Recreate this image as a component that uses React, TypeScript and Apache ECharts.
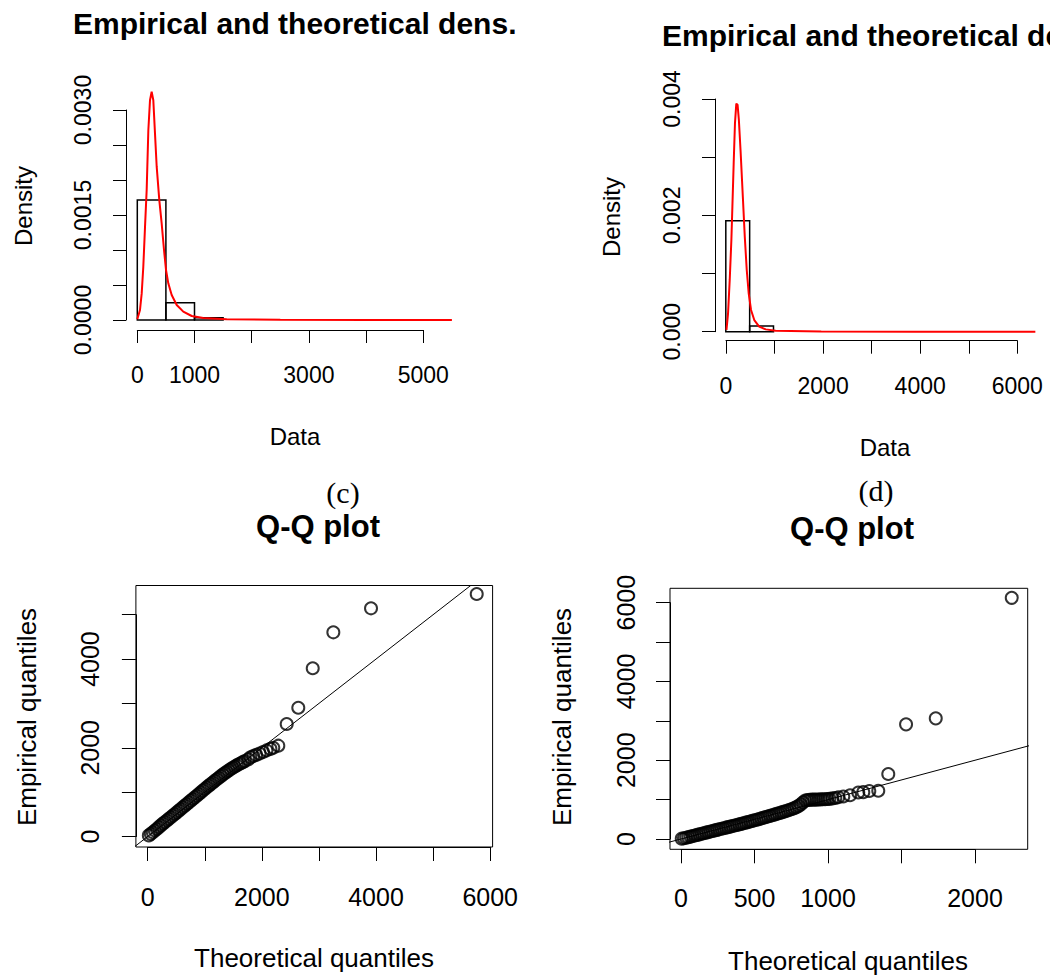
import React, { useEffect, useRef } from "react";
import * as echarts from "echarts";

// ---------- DATA ----------
// (c) top: histogram (bin edges, densities) and fitted density curve
const histCEdges = [0, 500, 1000, 1500];
const histCDensity = [0.001714, 0.000247, 0.000033];
const curveCX = [0, 47, 77, 105, 135, 164, 193, 222, 251, 280, 309, 339, 385, 426, 467, 502, 542, 601, 689, 804, 951, 1154, 1563, 2500, 4000, 5500];
const curveCY = [0.00001, 0.000143, 0.00038, 0.00076, 0.00133, 0.00186, 0.00271, 0.00314, 0.00326, 0.00314, 0.00267, 0.00219, 0.00171, 0.00138, 0.001, 0.000714, 0.000524, 0.000357, 0.000214, 0.000119, 0.000057, 0.000029, 0.00001, 0.000002, 0, 0];

// (d) top: histogram and fitted density curve
const histDEdges = [0, 500, 1000];
const histDDensity = [0.001907, 0.0001];
const curveDX = [14, 47, 82, 117, 138, 165, 192, 220, 247, 274, 309, 357, 398, 439, 480, 529, 597, 700, 838, 1044, 2000, 4000, 6490];
const curveDY = [0.00003, 0.000316, 0.00089, 0.00158, 0.00215, 0.00289, 0.00358, 0.00392, 0.0039, 0.00364, 0.00312, 0.00232, 0.00163, 0.00106, 0.00066, 0.000373, 0.0002, 0.000086, 0.00004, 0.000017, 0.000002, 0, 0];

// (c) Q-Q: theoretical vs empirical quantiles
const qqCTheo = [20, 55, 90, 125, 160, 195, 230, 265, 300, 335, 370, 405, 440, 475, 510, 545, 580, 615, 650, 685, 720, 755, 790, 825, 860, 895, 930, 965, 1000, 1035, 1070, 1105, 1140, 1175, 1210, 1245, 1280, 1315, 1350, 1385, 1420, 1455, 1490, 1525, 1560, 1595, 1630, 1665, 1700, 1760, 1800, 1850, 1900, 1960, 2020, 2080, 2150, 2200, 2288, 2435, 2638, 2891, 3252, 3912, 5764];
const qqCEmp = [25, 60, 95, 135, 170, 210, 250, 290, 325, 362, 398, 435, 472, 508, 545, 582, 620, 658, 695, 732, 770, 808, 845, 882, 920, 958, 996, 1035, 1072, 1110, 1146, 1182, 1218, 1254, 1290, 1325, 1360, 1395, 1428, 1460, 1492, 1522, 1550, 1578, 1604, 1628, 1652, 1676, 1700, 1740, 1785, 1815, 1840, 1870, 1905, 1940, 1975, 2000, 2047, 2536, 2903, 3792, 4603, 5144, 5467];
const qqCLine = [[-1000, -1000], [7000, 7000]];

// (d) Q-Q
const qqDTheo = [5, 20, 35, 50, 65, 80, 95, 110, 125, 140, 155, 170, 185, 200, 215, 230, 245, 260, 275, 290, 305, 320, 335, 350, 365, 380, 395, 410, 425, 440, 455, 470, 485, 500, 515, 530, 545, 560, 575, 590, 605, 620, 635, 650, 665, 680, 695, 710, 725, 740, 755, 770, 785, 800, 815, 830, 845, 860, 875, 890, 905, 920, 935, 950, 965, 980, 995, 1010, 1030, 1050, 1070, 1104, 1150, 1206, 1240, 1281, 1342, 1410, 1531, 1733, 2250];
const qqDEmp = [8, 20, 33, 47, 61, 75, 90, 104, 118, 133, 147, 162, 176, 190, 204, 218, 232, 246, 259, 273, 287, 301, 315, 329, 342, 356, 371, 385, 400, 415, 430, 445, 460, 475, 490, 506, 522, 538, 554, 570, 588, 604, 620, 637, 654, 671, 688, 705, 723, 742, 762, 783, 808, 840, 880, 930, 975, 990, 995, 998, 1000, 1000, 1002, 1005, 1008, 1010, 1015, 1020, 1030, 1040, 1060, 1080, 1110, 1180, 1190, 1220, 1225, 1650, 2911, 3063, 6124];
const qqDLine = [[-1000, -1000], [7000, 7000]];

// tick labels that are printed (others suppressed like in R)
const c1XLabels = ["0", "1000", "3000", "5000"];
const c1YLabels = ["0.0000", "0.0015", "0.0030"];
const d1XLabels = ["0", "2000", "4000", "6000"];
const d1YLabels = ["0.000", "0.002", "0.004"];
const c2XLabels = ["0", "2000", "4000", "6000"];
const c2YLabels = ["0", "2000", "4000"];
const d2XLabels = ["0", "500", "1000", "2000"];
const d2YLabels = ["0", "2000", "4000", "6000"];

// ---------- LAYOUT ----------
const SANS = '"Liberation Sans", Arial, sans-serif';
const SERIF = '"Liberation Serif", "Times New Roman", serif';

type Panel = {
  xTickVal: [number, number]; xTickPx: [number, number];
  yTickVal: [number, number]; yTickPx: [number, number];
  xInterval: number; yInterval: number;
  axisLineY: number; axisLineX: number;
  box: { left: number; right: number; top: number; bottom: number };
  showBox: boolean; fontSize: number; tickLen: number;
  xMargin: number; yMargin: number; xDec: number; yDec: number;
  xShow: string[]; yShow: string[];
};

const panels: Panel[] = [
  {
    xTickVal: [0, 5000], xTickPx: [137.3, 423.3], yTickVal: [0, 0.003], yTickPx: [320, 110],
    xInterval: 1000, yInterval: 0.0005, axisLineY: 330, axisLineX: 126,
    box: { left: 126, right: 465, top: 81, bottom: 330 }, showBox: false, fontSize: 23, tickLen: 13,
    xMargin: 33, yMargin: 32, xDec: 0, yDec: 4, xShow: c1XLabels, yShow: c1YLabels,
  },
  {
    xTickVal: [0, 6000], xTickPx: [726, 1017.3], yTickVal: [0, 0.004], yTickPx: [331.7, 99],
    xInterval: 1000, yInterval: 0.001, axisLineY: 340.7, axisLineX: 715,
    box: { left: 715, right: 1056, top: 93, bottom: 340.7 }, showBox: false, fontSize: 23, tickLen: 13,
    xMargin: 34, yMargin: 32, xDec: 0, yDec: 3, xShow: d1XLabels, yShow: d1YLabels,
  },
  {
    xTickVal: [0, 6000], xTickPx: [147.7, 490.2], yTickVal: [0, 5000], yTickPx: [836.5, 614.7],
    xInterval: 1000, yInterval: 1000, axisLineY: 847, axisLineX: 135.9,
    box: { left: 135.9, right: 492.6, top: 585.5, bottom: 847 }, showBox: true, fontSize: 25, tickLen: 14,
    xMargin: 37, yMargin: 33, xDec: 0, yDec: 0, xShow: c2XLabels, yShow: c2YLabels,
  },
  {
    xTickVal: [0, 2000], xTickPx: [681, 975], yTickVal: [0, 6000], yTickPx: [839, 602.7],
    xInterval: 500, yInterval: 1000, axisLineY: 849.3, axisLineX: 670,
    box: { left: 670, right: 1027.7, top: 588.3, bottom: 849.3 }, showBox: true, fontSize: 25, tickLen: 14,
    xMargin: 36, yMargin: 32, xDec: 0, yDec: 0, xShow: d2XLabels, yShow: d2YLabels,
  },
];

function lin(v0: number, v1: number, p0: number, p1: number, p: number) {
  return v0 + ((p - p0) * (v1 - v0)) / (p1 - p0);
}

function buildAxes() {
  const grid: any[] = [];
  const xAxis: any[] = [];
  const yAxis: any[] = [];
  panels.forEach((P) => {
    // data grid (hidden scales spanning the plot region)
    grid.push({
      left: P.box.left, top: P.box.top,
      width: P.box.right - P.box.left, height: P.box.bottom - P.box.top,
      show: P.showBox, borderColor: "#000", borderWidth: 1, backgroundColor: "transparent",
    });
    xAxis.push({
      type: "value", show: false, gridIndex: grid.length - 1,
      min: lin(P.xTickVal[0], P.xTickVal[1], P.xTickPx[0], P.xTickPx[1], P.box.left),
      max: lin(P.xTickVal[0], P.xTickVal[1], P.xTickPx[0], P.xTickPx[1], P.box.right),
      splitLine: { show: false },
    });
    yAxis.push({
      type: "value", show: false, gridIndex: grid.length - 1,
      min: lin(P.yTickVal[0], P.yTickVal[1], P.yTickPx[0], P.yTickPx[1], P.box.bottom),
      max: lin(P.yTickVal[0], P.yTickVal[1], P.yTickPx[0], P.yTickPx[1], P.box.top),
      splitLine: { show: false },
    });
    // axis grid (spans the tick range only, like R's axis())
    grid.push({
      left: P.xTickPx[0], top: P.yTickPx[1],
      width: P.xTickPx[1] - P.xTickPx[0], height: P.yTickPx[0] - P.yTickPx[1],
      show: false,
    });
    const common = {
      type: "value", gridIndex: grid.length - 1,
      axisLine: { show: true, onZero: false, lineStyle: { color: "#000", width: 1 } },
      axisTick: { show: true, length: P.tickLen, lineStyle: { color: "#000", width: 1 } },
      splitLine: { show: false },
    };
    xAxis.push({
      ...common, position: "bottom",
      min: P.xTickVal[0], max: P.xTickVal[1], interval: P.xInterval,
      offset: P.axisLineY - P.yTickPx[0],
      axisLabel: {
        margin: P.xMargin, color: "#000", fontSize: P.fontSize, fontFamily: SANS,
        formatter: (v: number) => { const s = v.toFixed(P.xDec); return P.xShow.includes(s) ? s : ""; },
      },
    });
    yAxis.push({
      ...common, position: "left",
      min: P.yTickVal[0], max: P.yTickVal[1], interval: P.yInterval,
      offset: P.xTickPx[0] - P.axisLineX,
      axisLabel: {
        margin: P.yMargin, rotate: 90, color: "#000", fontSize: P.fontSize, fontFamily: SANS,
        formatter: (v: number) => { const s = v.toFixed(P.yDec); return P.yShow.includes(s) ? s : ""; },
      },
    });
  });
  return { grid, xAxis, yAxis };
}

function histSeries(idx: number, edges: number[], dens: number[]) {
  return {
    type: "custom", xAxisIndex: idx, yAxisIndex: idx, silent: true,
    data: dens.map((d, i) => [edges[i], edges[i + 1], d]),
    encode: { x: [0, 1], y: 2 },
    renderItem: (_p: any, api: any) => {
      const a = api.coord([api.value(0), api.value(2)]);
      const b = api.coord([api.value(1), 0]);
      return {
        type: "rect",
        shape: { x: a[0], y: a[1], width: b[0] - a[0], height: b[1] - a[1] },
        style: { fill: "rgba(0,0,0,0)", stroke: "#000", lineWidth: 1.5 },
      };
    },
  };
}

function curveSeries(idx: number, xs: number[], ys: number[]) {
  return {
    type: "line", xAxisIndex: idx, yAxisIndex: idx, silent: true, showSymbol: false, symbol: "none",
    data: xs.map((x, i) => [x, ys[i]]), clip: true,
    lineStyle: { color: "#ff0000", width: 2 },
  };
}

function qqSeries(idx: number, xs: number[], ys: number[]) {
  return {
    type: "scatter", xAxisIndex: idx, yAxisIndex: idx, silent: true,
    symbol: "circle", symbolSize: 12,
    data: xs.map((x, i) => [x, ys[i]]),
    itemStyle: { color: "rgba(0,0,0,0)", borderColor: "#000", borderWidth: 2 },
  };
}

function refLine(idx: number, pts: number[][]) {
  return {
    type: "line", xAxisIndex: idx, yAxisIndex: idx, silent: true, showSymbol: false, symbol: "none",
    data: pts, clip: true, lineStyle: { color: "#000", width: 1 },
  };
}

function txt(text: string, x: number, y: number, font: string, align: string, rot = 0) {
  return {
    type: "text", x, y, rotation: rot, silent: true,
    style: {
      text, font, fill: "#000",
      textAlign: align, align, textVerticalAlign: "middle", verticalAlign: "middle",
    },
  };
}

export default function App() {
  const ref = useRef<HTMLDivElement>(null);
  useEffect(() => {
    if (!ref.current) return;
    const chart = echarts.init(ref.current, undefined, { renderer: "svg" });
    const { grid, xAxis, yAxis } = buildAxes();
    const titleFont = `bold 30px ${SANS}`;
    const labFont = `24px ${SANS}`;
    const qqLabFont = `26px ${SANS}`;
    chart.setOption({
      animation: false,
      backgroundColor: "#fff",
      grid, xAxis, yAxis,
      series: [
        histSeries(0, histCEdges, histCDensity),
        curveSeries(0, curveCX, curveCY),
        histSeries(2, histDEdges, histDDensity),
        curveSeries(2, curveDX, curveDY),
        refLine(4, qqCLine),
        qqSeries(4, qqCTheo, qqCEmp),
        refLine(6, qqDLine),
        qqSeries(6, qqDTheo, qqDEmp),
      ],
      graphic: [
        txt("Empirical and theoretical dens.", 73, 23, titleFont, "left"),
        txt("Density", 23, 206, labFont, "center", Math.PI / 2),
        txt("Data", 295, 436, labFont, "center"),
        txt("Empirical and theoretical dens.", 662, 35, titleFont, "left"),
        txt("Density", 611, 217, labFont, "center", Math.PI / 2),
        txt("Data", 885, 447, labFont, "center"),
        txt("(c)", 343, 492, `30px ${SERIF}`, "center"),
        txt("Q-Q plot", 318, 526, `bold 31px ${SANS}`, "center"),
        txt("Empirical quantiles", 27, 717, qqLabFont, "center", Math.PI / 2),
        txt("Theoretical quantiles", 314, 958, qqLabFont, "center"),
        txt("(d)", 876, 490, `30px ${SERIF}`, "center"),
        txt("Q-Q plot", 852, 528, `bold 31px ${SANS}`, "center"),
        txt("Empirical quantiles", 562, 717, qqLabFont, "center", Math.PI / 2),
        txt("Theoretical quantiles", 848, 961, qqLabFont, "center"),
      ],
    });
    return () => chart.dispose();
  }, []);
  return (
    <div
      ref={ref}
      style={{ position: "fixed", left: 0, top: 0, width: 1050, height: 975, background: "#fff" }}
    />
  );
}
